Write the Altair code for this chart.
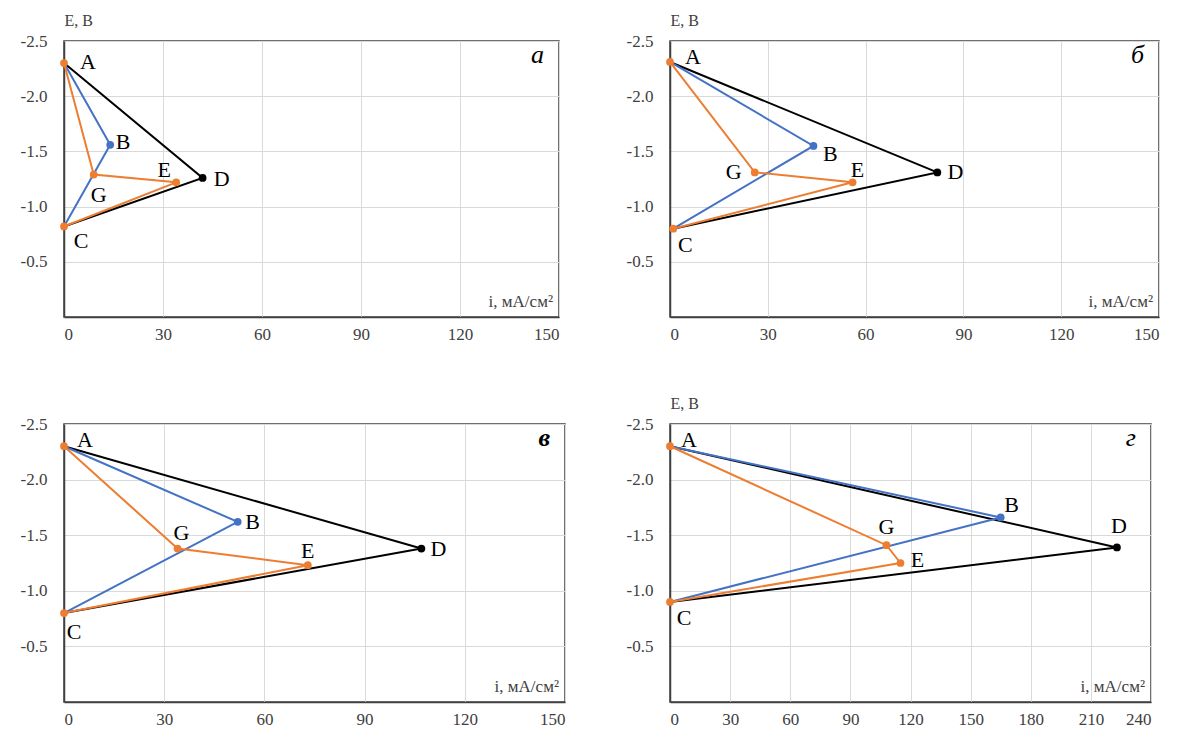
import altair as alt
import pandas as pd

# ---- data ----
point_names = ["A", "B", "C", "D", "E", "G"]

i_a = [0, 14, 0, 42, 34, 9]
E_a = [-2.30, -1.56, -0.82, -1.26, -1.22, -1.29]

i_b = [0, 44, 1, 82, 56, 26]
E_b = [-2.31, -1.55, -0.80, -1.31, -1.22, -1.31]

i_v = [0, 52, 0, 107, 73, 34]
E_v = [-2.30, -1.62, -0.80, -1.38, -1.23, -1.38]

i_g = [0, 165, 0, 223, 115, 108]
E_g = [-2.30, -1.66, -0.90, -1.39, -1.25, -1.41]

path_black = ["A", "D", "C"]
path_blue = ["A", "B", "C"]
path_orange = ["A", "G", "E", "C"]

marker_series = {"A": "orange", "B": "blue", "C": "orange", "D": "black", "E": "orange", "G": "orange"}

y_ticks = [-2.5, -2.0, -1.5, -1.0, -0.5, 0.0]
x_unit_label = "i, мА/см²"
y_unit_label = "E, В"

# ---- styling ----
COLORS = {"black": "#000000", "blue": "#4472C4", "orange": "#ED7D31"}
FONT = "Liberation Serif, Times New Roman, DejaVu Serif, serif"

# label offsets (dx, dy) per point for each panel
offs_a = {"A": (24, -1), "B": (13, -3), "C": (17, 15), "D": (19, 1), "E": (-12, -12), "G": (5, 20)}
offs_b = {"A": (23, -5), "B": (17, 8), "C": (12, 16), "D": (18, 0), "E": (5, -12), "G": (-21, 0)}
offs_v = {"A": (21, -6), "B": (15, 0), "C": (10, 19), "D": (17, 0), "E": (0, -14), "G": (4, -16)}
offs_g = {"A": (19, -6), "B": (11, -12), "C": (14, 16), "D": (2, -21), "E": (17, -3), "G": (0, -18)}


def panel(i_vals, e_vals, xmax, width, height, letter, letter_bold, show_ytitle, offs):
    lookup = dict(zip(point_names, zip(i_vals, e_vals)))
    xs = alt.Scale(domain=[0, xmax], nice=False, zero=False)
    ys = alt.Scale(domain=[-2.5, 0], nice=False, reverse=True)
    xaxis = alt.Axis(values=list(range(0, xmax + 1, 30)), title=None, grid=True,
                     labelPadding=9, ticks=False)
    if show_ytitle:
        yaxis = alt.Axis(values=y_ticks, grid=True, ticks=False, labelPadding=17,
                         labelExpr="datum.value == 0 ? '' : '-' + format(abs(datum.value), '.1f')",
                         title=y_unit_label, titleAngle=0, titleAlign="left", titleX=0, titleY=-16,
                         titleBaseline="alphabetic", titleFont=FONT, titleFontSize=16,
                         titleFontWeight="normal", titleColor="#404040")
    else:
        yaxis = alt.Axis(values=y_ticks, grid=True, ticks=False, labelPadding=17,
                         labelExpr="datum.value == 0 ? '' : '-' + format(abs(datum.value), '.1f')",
                         title=None)
    X = alt.X("i:Q", scale=xs, axis=xaxis)
    Y = alt.Y("E:Q", scale=ys, axis=yaxis)

    layers = []
    for s, path in [("black", path_black), ("blue", path_blue), ("orange", path_orange)]:
        df = pd.DataFrame({"ord": list(range(len(path))),
                           "i": [lookup[p][0] for p in path],
                           "E": [lookup[p][1] for p in path]})
        layers.append(alt.Chart(df).mark_line(color=COLORS[s], strokeWidth=2).encode(
            x=X, y=Y, order="ord:Q"))
    for s in ["black", "blue", "orange"]:
        pts = [p for p in point_names if marker_series[p] == s]
        df = pd.DataFrame({"i": [lookup[p][0] for p in pts], "E": [lookup[p][1] for p in pts]})
        layers.append(alt.Chart(df).mark_circle(color=COLORS[s], size=60, opacity=1).encode(x=X, y=Y))
    for p in point_names:
        df = pd.DataFrame({"i": [lookup[p][0]], "E": [lookup[p][1]], "t": [p]})
        dx, dy = offs[p]
        layers.append(alt.Chart(df).mark_text(font=FONT, fontSize=22, color="#000000",
                                              align="center", baseline="middle", dx=dx, dy=dy).encode(
            x=X, y=Y, text="t:N"))
    one = alt.Data(values=[{"k": 1}])
    layers.append(alt.Chart(one).mark_text(text=x_unit_label, font=FONT, fontSize=17, color="#404040",
                                           align="right", baseline="alphabetic").encode(
        x=alt.value(width - 6), y=alt.value(height - 10)))
    layers.append(alt.Chart(one).mark_text(text=letter, font=FONT, fontSize=26, fontStyle="italic",
                                           fontWeight="bold" if letter_bold else "normal",
                                           color="#000000", align="right", baseline="alphabetic").encode(
        x=alt.value(width - 15), y=alt.value(22)))
    return alt.layer(*layers).properties(width=width, height=height)


pa = panel(i_a, E_a, 150, 495, 276, "а", False, True, offs_a)
pb = panel(i_b, E_b, 150, 489, 276, "б", False, True, offs_b)
pv = panel(i_v, E_v, 150, 501, 278, "в", True, False, offs_v)
pg = panel(i_g, E_g, 240, 481, 278, "г", False, True, offs_g)

chart = alt.concat(pa, pb, pv, pg, columns=2, spacing={"row": 107, "column": 105},
                   bounds="flush").properties(
    padding={"left": 19, "top": 11, "right": 5, "bottom": 5},
    background="#ffffff",
).configure_view(stroke="#404040", strokeWidth=1.5).configure_axis(
    domainColor="#404040", domainWidth=1.5, gridColor="#d9d9d9", gridWidth=1,
    labelFont=FONT, labelFontSize=17, labelColor="#404040",
).configure_axisX(labelAngle=0)

chart.save("out.html", embed_options={"renderer": "svg", "actions": False})
